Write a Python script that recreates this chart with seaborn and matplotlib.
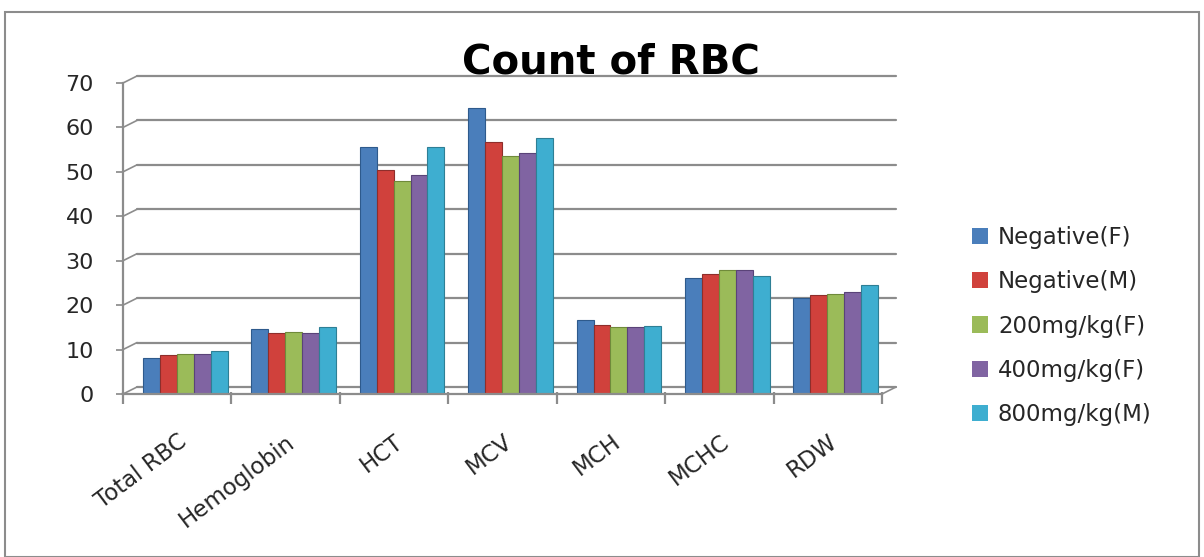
import matplotlib
matplotlib.use("Agg")
import matplotlib.pyplot as plt
import matplotlib.transforms as mtransforms
from matplotlib.patches import Rectangle
from matplotlib.lines import Line2D
import seaborn as sns
import pandas as pd

categories = ["Total RBC", "Hemoglobin", "HCT", "MCV", "MCH", "MCHC", "RDW"]
series_names = ["Negative(F)", "Negative(M)", "200mg/kg(F)", "400mg/kg(F)", "800mg/kg(M)"]
neg_f = [8.2, 14.6, 55.6, 64.4, 16.7, 26.0, 21.5]
neg_m = [8.8, 13.7, 50.4, 56.8, 15.5, 27.0, 22.3]
mg200_f = [9.0, 14.0, 48.0, 53.5, 15.1, 27.8, 22.4]
mg400_f = [9.1, 13.8, 49.2, 54.3, 15.1, 28.0, 23.0]
mg800_m = [9.7, 15.0, 55.7, 57.6, 15.3, 26.6, 24.6]
colors = ["#4A7EBB", "#D0413C", "#9BBB59", "#8064A2", "#3EAED0"]
edge_colors = ["#2E5A8C", "#8E2E2B", "#6F8A3A", "#5A4378", "#2E7F95"]
yticks = [0, 10, 20, 30, 40, 50, 60, 70]

rows = []
for name, vals in zip(series_names, [neg_f, neg_m, mg200_f, mg400_f, mg800_m]):
    for c, v in zip(categories, vals):
        rows.append({"Parameter": c, "Group": name, "Value": v})
df = pd.DataFrame(rows)

sns.set_theme(style="white")
plt.rcParams["font.family"] = ["DejaVu Sans"]

fig = plt.figure(figsize=(12.04, 5.57), dpi=100)
ax = fig.add_axes([123 / 1204, 1 - 394 / 557, (882 - 123) / 1204, 311 / 557])

grid_c = "#8C8C8C"
# 3D-like back wall gridlines (offset up-right)
off = mtransforms.ScaledTranslation(14 / 100, 7 / 100, fig.dpi_scale_trans)
blend = mtransforms.blended_transform_factory(ax.transAxes, ax.transData)
for y in yticks:
    ax.plot([0, 1.0], [y, y], color=grid_c, lw=1.6, transform=blend + off,
            clip_on=False, zorder=0)

sns.barplot(data=df, x="Parameter", y="Value", hue="Group", order=categories,
            hue_order=series_names, palette=colors, saturation=1, width=0.78, ax=ax,
            edgecolor="none", linewidth=0, errorbar=None, legend=False, zorder=2)

bar_off = mtransforms.ScaledTranslation(8 / 100, 0, fig.dpi_scale_trans)
for i, container in enumerate(ax.containers):
    for bar in container:
        bar.set_edgecolor(edge_colors[i])
        bar.set_linewidth(0.8)
        bar.set_transform(ax.transData + bar_off)

ax.set_ylim(0, 70)
ax.set_xlim(-0.5, len(categories) - 0.5)
ax.set_yticks(yticks)
ax.set_yticklabels([str(t) for t in yticks], fontsize=16)
ax.set_xlabel("")
ax.set_ylabel("")
ax.set_xticks(range(len(categories)))
ax.set_xticklabels(categories, rotation=37, ha="right", rotation_mode="anchor", fontsize=16.5)
ax.tick_params(axis="x", length=0, pad=26)
ax.tick_params(axis="y", length=5, color=grid_c, left=True, pad=16)
for s in ["top", "right"]:
    ax.spines[s].set_visible(False)
ax.spines["left"].set_color(grid_c)
ax.spines["left"].set_linewidth(1.6)
ax.spines["bottom"].set_color(grid_c)
ax.spines["bottom"].set_linewidth(1.6)

# category boundary ticks on floor
for b in range(len(categories) + 1):
    ax.plot([b - 0.5], [0], marker="|", markersize=8, color=grid_c, mew=1.6,
            clip_on=False,
            transform=ax.transData + mtransforms.ScaledTranslation(0, -4 / 100, fig.dpi_scale_trans))

# diagonal connectors from the axis to the back wall
inv = fig.transFigure.inverted()
for y in yticks:
    x0, y0 = ax.transData.transform((-0.5, y))
    p0 = inv.transform((x0, y0))
    p1 = inv.transform((x0 + 14, y0 + 7))
    fig.add_artist(Line2D([p0[0], p1[0]], [p0[1], p1[1]], color=grid_c, lw=1.2))
# right floor connector
x0, y0 = ax.transData.transform((len(categories) - 0.5, 0))
p0 = inv.transform((x0, y0))
p1 = inv.transform((x0 + 14, y0 + 7))
fig.add_artist(Line2D([p0[0], p1[0]], [p0[1], p1[1]], color=grid_c, lw=1.2))

fig.text(611 / 1204, 1 - 62 / 557, "Count of RBC", ha="center", va="center",
         fontsize=29, fontweight="bold", color="black")

handles = [Rectangle((0, 0), 1, 1, facecolor=c, edgecolor="none") for c in colors]
fig.legend(handles, series_names, loc="center left", bbox_to_anchor=(951 / 1204, 1 - 326 / 557),
           frameon=False, fontsize=16.5, handlelength=0.7, handleheight=0.7,
           handletextpad=0.45, labelspacing=0.92)

fig.add_artist(Rectangle((5 / 1204, 0.0), 1194 / 1204, 1 - 12 / 557, transform=fig.transFigure,
                         fill=False, edgecolor=grid_c, lw=1.5))

fig.savefig("out.png", dpi=100, facecolor="white")
